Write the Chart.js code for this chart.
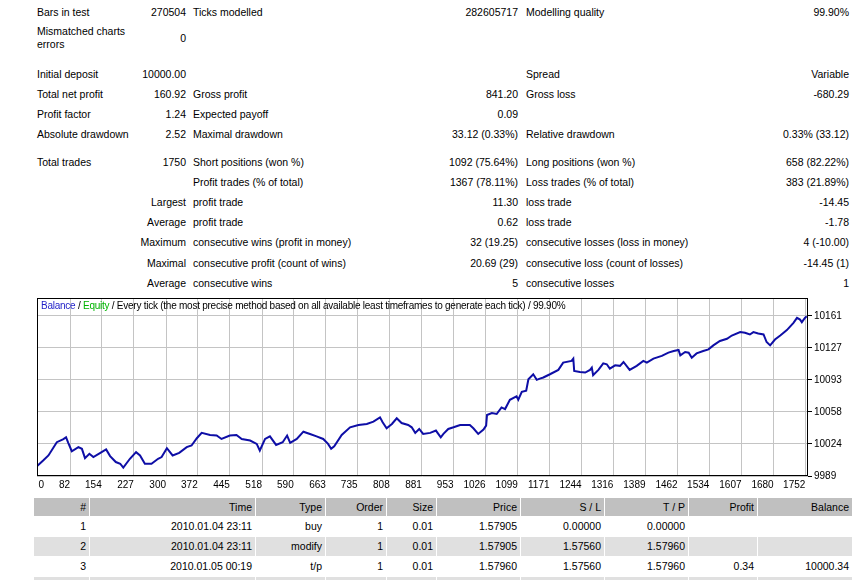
<!DOCTYPE html>
<html>
<head>
<meta charset="utf-8">
<script src="https://cdn.jsdelivr.net/npm/chart.js@4.4.0/dist/chart.umd.min.js"></script>
<style>
  body { margin: 0; background: #fff; width: 858px; height: 580px; overflow: hidden; position: relative;
         font-family: "Liberation Sans", Arial, sans-serif; font-size: 10.5px; color: #000; }
  .r { position: absolute; left: 0; width: 858px; height: 20px; line-height: 20px; white-space: nowrap; }
  .r span { position: absolute; top: 0; }
  .c1 { left: 37px; }
  .c2 { left: 0; width: 186px; text-align: right; }
  .c3 { left: 193px; }
  .c4 { left: 0; width: 518px; text-align: right; }
  .c5 { left: 526px; }
  .c6 { left: 0; width: 849px; text-align: right; }
  #chartBox { position: absolute; left: 30px; top: 290px; width: 828px; height: 200px; }
  #chartTitle { position: absolute; left: 41px; top: 299px; font-family: "Liberation Sans", Arial, sans-serif;
                font-size: 10px; letter-spacing: -0.25px; line-height: 13px; white-space: nowrap; }
  #trades { position: absolute; left: 33px; top: 497px; border-collapse: separate; border-spacing: 1px; table-layout: fixed; }
  #trades td { padding: 0 3px; text-align: right; height: 19px; line-height: 19px; white-space: nowrap; overflow: hidden; }
  #trades tr.h td { background: #c0c0c0; height: 18px; line-height: 18px; }
  #trades tr.g td { background: #e0e0e0; }
</style>
</head>
<body>

<div class="r" style="top:2px"><span class="c1">Bars in test</span><span class="c2">270504</span><span class="c3">Ticks modelled</span><span class="c4">282605717</span><span class="c5">Modelling quality</span><span class="c6">99.90%</span></div>
<div class="r" style="top:25px;height:26px;line-height:13px"><span class="c1">Mismatched charts<br>errors</span></div>
<div class="r" style="top:28px"><span class="c2">0</span></div>
<div class="r" style="top:64px"><span class="c1">Initial deposit</span><span class="c2">10000.00</span><span class="c5">Spread</span><span class="c6">Variable</span></div>
<div class="r" style="top:84px"><span class="c1">Total net profit</span><span class="c2">160.92</span><span class="c3">Gross profit</span><span class="c4">841.20</span><span class="c5">Gross loss</span><span class="c6">-680.29</span></div>
<div class="r" style="top:104px"><span class="c1">Profit factor</span><span class="c2">1.24</span><span class="c3">Expected payoff</span><span class="c4">0.09</span></div>
<div class="r" style="top:124px"><span class="c1">Absolute drawdown</span><span class="c2">2.52</span><span class="c3">Maximal drawdown</span><span class="c4">33.12 (0.33%)</span><span class="c5">Relative drawdown</span><span class="c6">0.33% (33.12)</span></div>
<div class="r" style="top:152px"><span class="c1">Total trades</span><span class="c2">1750</span><span class="c3">Short positions (won %)</span><span class="c4">1092 (75.64%)</span><span class="c5">Long positions (won %)</span><span class="c6">658 (82.22%)</span></div>
<div class="r" style="top:172px"><span class="c3">Profit trades (% of total)</span><span class="c4">1367 (78.11%)</span><span class="c5">Loss trades (% of total)</span><span class="c6">383 (21.89%)</span></div>
<div class="r" style="top:192px"><span class="c2">Largest</span><span class="c3">profit trade</span><span class="c4">11.30</span><span class="c5">loss trade</span><span class="c6">-14.45</span></div>
<div class="r" style="top:212px"><span class="c2">Average</span><span class="c3">profit trade</span><span class="c4">0.62</span><span class="c5">loss trade</span><span class="c6">-1.78</span></div>
<div class="r" style="top:232px"><span class="c2">Maximum</span><span class="c3">consecutive wins (profit in money)</span><span class="c4">32 (19.25)</span><span class="c5">consecutive losses (loss in money)</span><span class="c6">4 (-10.00)</span></div>
<div class="r" style="top:253px"><span class="c2">Maximal</span><span class="c3">consecutive profit (count of wins)</span><span class="c4">20.69 (29)</span><span class="c5">consecutive loss (count of losses)</span><span class="c6">-14.45 (1)</span></div>
<div class="r" style="top:273px"><span class="c2">Average</span><span class="c3">consecutive wins</span><span class="c4">5</span><span class="c5">consecutive losses</span><span class="c6">1</span></div>

<div id="chartBox"><canvas id="balanceChart" width="828" height="200"></canvas></div>
<div id="chartTitle"><span style="color:#1e1ec8">Balance</span> / <span style="color:#00b400">Equity</span> / Every tick (the most precise method based on all available least timeframes to generate each tick) / 99.90%</div>

<table id="trades">
  <colgroup>
    <col style="width:55px"><col style="width:165px"><col style="width:69px"><col style="width:60px"><col style="width:49px">
    <col style="width:83px"><col style="width:83px"><col style="width:83px"><col style="width:68px"><col style="width:94px">
  </colgroup>
  <tr class="h"><td>#</td><td>Time</td><td>Type</td><td>Order</td><td>Size</td><td>Price</td><td>S / L</td><td>T / P</td><td>Profit</td><td>Balance</td></tr>
  <tr><td>1</td><td>2010.01.04 23:11</td><td>buy</td><td>1</td><td>0.01</td><td>1.57905</td><td>0.00000</td><td>0.00000</td><td></td><td></td></tr>
  <tr class="g"><td>2</td><td>2010.01.04 23:11</td><td>modify</td><td>1</td><td>0.01</td><td>1.57905</td><td>1.57560</td><td>1.57960</td><td></td><td></td></tr>
  <tr><td>3</td><td>2010.01.05 00:19</td><td>t/p</td><td>1</td><td>0.01</td><td>1.57960</td><td>1.57560</td><td>1.57960</td><td>0.34</td><td>10000.34</td></tr>
  <tr class="g"><td>&nbsp;</td><td></td><td></td><td></td><td></td><td></td><td></td><td></td><td></td><td></td></tr>
</table>

<script>
// balance curve (trade number -> balance)
const tradeNo = [8, 21, 33, 52, 67, 73, 78, 86, 101, 109, 116, 126, 135, 150, 164, 173, 186, 196, 203, 218,
  232, 241, 252, 267, 282, 290, 302, 315, 330, 347, 358, 370, 381, 400, 415, 426, 445, 460, 472, 491,
  506, 513, 525, 536, 550, 565, 575, 582, 597, 612, 627, 642, 657, 668, 675, 682, 699, 718, 737, 756,
  771, 786, 792, 801, 813, 824, 835, 850, 858, 866, 875, 884, 900, 913, 924, 930, 941, 953, 968, 990,
  998, 1009, 1021, 1027, 1029, 1040, 1051, 1062, 1070, 1081, 1096, 1100, 1108, 1118, 1123, 1134, 1142, 1149, 1157, 1172,
  1191, 1202, 1221, 1225, 1227, 1240, 1252, 1263, 1267, 1270, 1282, 1293, 1301, 1308, 1320, 1331, 1339, 1353, 1369, 1384,
  1392, 1407, 1426, 1441, 1453, 1464, 1468, 1479, 1487, 1494, 1505, 1520, 1532, 1543, 1558, 1574, 1585, 1604, 1615, 1626,
  1634, 1645, 1657, 1664, 1672, 1683, 1695, 1710, 1725, 1733, 1740, 1744, 1751, 1755];
const balance = [10000.5, 10006, 10011.5, 10025.7, 10029, 10031, 10025, 10016, 10020.4, 10018.6, 10008.6, 10013.2, 10009.7, 10014, 10017.9, 10010.8, 10004.4, 10002.6, 9998.3, 10007.9,
  10015, 10011.5, 10002.6, 10002.6, 10007.9, 10009.7, 10019.3, 10011.5, 10014.3, 10020.4, 10022.2, 10030, 10035.7, 10033.5, 10032.9, 10029.2, 10032.9, 10033.5, 10029.2, 10027.5,
  10023.9, 10016.8, 10029.2, 10032, 10022.8, 10025.7, 10032.9, 10025, 10029.2, 10037, 10034.5, 10032, 10029.2, 10023.9, 10018.6, 10021.4, 10033.5, 10041.7, 10044.2, 10045.3,
  10047.8, 10052.4, 10047.1, 10040.7, 10045.3, 10051.4, 10046.3, 10044.2, 10041.7, 10035.7, 10039.9, 10034.6, 10035.7, 10038.2, 10031, 10034.6, 10039.9, 10041.7, 10044.2, 10044.2,
  10040.7, 10034.6, 10039.3, 10043.6, 10054.9, 10057, 10056, 10063.1, 10061.3, 10071.3, 10074.9, 10071.3, 10079.9, 10081, 10093.3, 10098.7, 10092.7, 10094, 10095.2, 10098.7,
  10103.4, 10111.2, 10113, 10115.5, 10102.3, 10101.2, 10100.5, 10103.4, 10105.8, 10097.6, 10103.4, 10110.4, 10109.4, 10104.8, 10108.3, 10107.7, 10111.9, 10103.4, 10107.7, 10113,
  10111.2, 10115.5, 10118.4, 10121.9, 10123.7, 10124.8, 10119, 10122.6, 10121.9, 10116.5, 10121.1, 10123.7, 10125.4, 10129.7, 10134.4, 10136.8, 10140.3, 10144, 10143.2, 10141.4,
  10144, 10142.5, 10141.4, 10133.3, 10129.7, 10136, 10140.3, 10146.1, 10153.9, 10159.2, 10157.4, 10154.6, 10159.2, 10160.9];

// axis ticks as printed under / beside the chart
const xTickValues = [23, 82, 154, 227, 300, 372, 445, 518, 590, 663, 735, 808, 881, 953, 1026, 1099, 1171, 1244, 1316, 1389, 1462, 1534, 1607, 1680, 1752];
const xTickLabels = ['0', '82', '154', '227', '300', '372', '445', '518', '590', '663', '735', '808', '881', '953', '1026', '1099', '1171', '1244', '1316', '1389', '1462', '1534', '1607', '1680', '1752'];
const yTickValues = [9989.4, 10023.8, 10058.2, 10092.6, 10127, 10161.4];
const yTickLabels = ['9989', '10024', '10058', '10093', '10127', '10161'];

const X_MIN = 7, X_MAX = 1758, Y_MIN = 9989.4, Y_MAX = 10180.6;
const tickFont = { family: '"Liberation Sans", Arial, sans-serif', size: 10 };

const plotFrame = {
  id: 'plotFrame',
  afterDraw(chart) {
    const { ctx, chartArea: a } = chart;
    ctx.save();
    ctx.strokeStyle = '#000';
    ctx.lineWidth = 1;
    ctx.strokeRect(Math.round(a.left) + 0.5, Math.round(a.top) + 0.5, Math.round(a.width) - 1, Math.round(a.height) - 1);
    ctx.restore();
  }
};

new Chart(document.getElementById('balanceChart'), {
  type: 'line',
  data: {
    datasets: [{
      label: 'Balance',
      data: tradeNo.map((t, i) => ({ x: t, y: balance[i] })),
      borderColor: '#0e0ea6',
      borderWidth: 2,
      pointRadius: 0,
      tension: 0,
      fill: false
    }]
  },
  options: {
    responsive: false,
    animation: false,
    devicePixelRatio: 1,
    layout: { padding: { left: 7, top: 7, right: 0, bottom: 0 } },
    plugins: { legend: { display: false }, tooltip: { enabled: false } },
    scales: {
      x: {
        type: 'linear',
        min: X_MIN,
        max: X_MAX,
        afterBuildTicks: s => { s.ticks = xTickValues.map(v => ({ value: v })); },
        afterFit: s => { s.height = 14; },
        border: { display: false },
        grid: {
          color: c => (c.index === 0 ? 'rgba(0,0,0,0)' : '#c4c4c4'),
          borderDash: [4, 3],
          drawTicks: false
        },
        ticks: {
          autoSkip: false,
          maxRotation: 0,
          align: 'end',
          padding: 3,
          color: '#000',
          font: tickFont,
          callback: (v, i) => xTickLabels[i]
        }
      },
      y: {
        position: 'right',
        min: Y_MIN,
        max: Y_MAX,
        afterBuildTicks: s => { s.ticks = yTickValues.map(v => ({ value: v })); },
        afterFit: s => { s.width = 50; },
        border: { display: false },
        grid: {
          color: '#c4c4c4',
          borderDash: [4, 3],
          tickColor: '#000',
          tickLength: 4,
          tickBorderDash: []
        },
        ticks: {
          padding: 2,
          color: '#000',
          font: tickFont,
          callback: (v, i) => yTickLabels[i]
        }
      }
    }
  },
  plugins: [plotFrame]
});
</script>
</body>
</html>
